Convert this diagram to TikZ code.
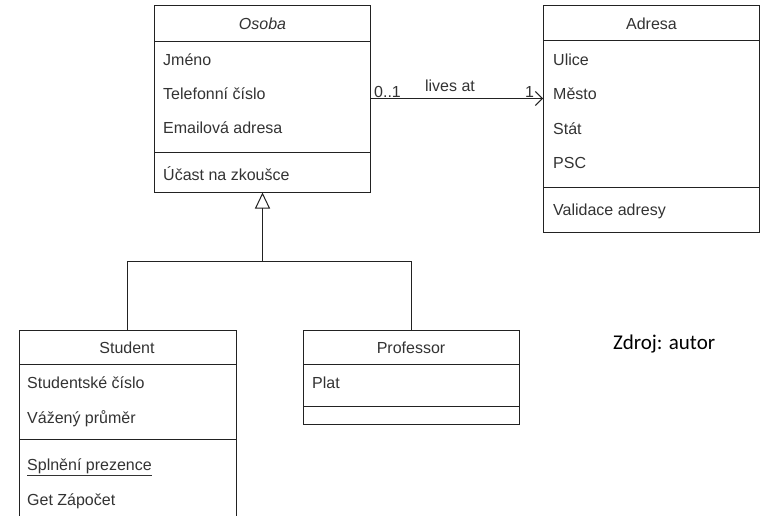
\documentclass[tikz,border=0pt]{standalone}
\usepackage{fontspec}
\setmainfont{Liberation Sans}
\newfontfamily\notefont{Carlito}
\usetikzlibrary{arrows.meta}
\definecolor{umlline}{HTML}{222222}
\definecolor{umltext}{HTML}{333333}
\tikzset{
  classbox/.style={draw=umlline, line width=1pt, rectangle, inner sep=0pt, minimum width=216pt},
  member/.style={anchor=base west, inner sep=0pt, text=umltext, font=\fontsize{16}{18}\selectfont},
  title/.style={anchor=base, inner sep=0pt, text=umltext, font=\fontsize{16}{18}\selectfont},
  conn/.style={draw=umlline, line width=1pt},
  inherit/.style={conn, -{Triangle[open, length=16pt, width=15pt, line width=1pt]}},
  assoc/.style={conn, -{Straight Barb[length=7pt, width=14pt, line width=1pt]}},
}
\begin{document}
\begin{tikzpicture}[x=1pt, y=-1pt]
\useasboundingbox[fill=white] (0,0) rectangle (760,515);

% class Osoba
\node[classbox, minimum height=187pt] (osoba) at (262.5,98.5) {};
\draw[conn] (155,41) -- (370,41);
\draw[conn] (155,152) -- (370,152);
\node[title, font=\fontsize{16}{18}\selectfont\itshape] (osobaT) at (262.5,29) {Osoba};
\node[member] (o1) at (163,65) {Jméno};
\node[member] (o2) at (163,99) {Telefonní číslo};
\node[member] (o3) at (163,133) {Emailová adresa};
\node[member] (o4) at (163,180) {Účast na zkoušce};

% class Adresa
\node[classbox, minimum height=227pt] (adresa) at (651.5,118.5) {};
\draw[conn] (543.5,40) -- (759.5,40);
\draw[conn] (543.5,187) -- (759.5,187);
\node[title] (adresaT) at (651.5,29) {Adresa};
\node[member] (a1) at (553,65) {Ulice};
\node[member] (a2) at (553,99) {Město};
\node[member] (a3) at (553,134) {Stát};
\node[member] (a4) at (553,168) {PSC};
\node[member] (a5) at (553,215) {Validace adresy};

% class Student (runs past the lower edge)
\coordinate (student) at (127,330);
\draw[conn] (19,520) -- (19,330) -- (236,330) -- (236,520);
\draw[conn] (19,364) -- (236,364);
\draw[conn] (19,439) -- (236,439);
\node[title] (studentT) at (127,353) {Student};
\node[member] (s1) at (27,388) {Studentské číslo};
\node[member] (s2) at (27,423) {Vážený průměr};
\node[member] (s3) at (27,470) {\underline{Splnění prezence}};
\node[member] (s4) at (27,505) {Get Zápočet};

% class Professor
\node[classbox, minimum height=94pt] (prof) at (411,377) {};
\draw[conn] (303,364) -- (519,364);
\draw[conn] (303,406) -- (519,406);
\node[title] (profT) at (411,353) {Professor};
\node[member] (p1) at (312,388) {Plat};

% association
\draw[assoc] (osoba.east) -- (adresa.west |- osoba.east);
\node[member] (m1) at (374,97) {0..1};
\node[title] (lbl) at (450,91) {lives at};
\node[member] (m2) at (525,97) {1};

% generalization
\coordinate (fork) at (262.5,261);
\draw[conn] (student) -- (student |- fork) -- (prof.north |- fork) -- (prof.north);
\draw[inherit] (fork) -- (osoba.south);

\node[anchor=base west, inner sep=0pt, font=\notefont\fontsize{21}{24}\selectfont] (src) at (613,349) {Zdroj: autor};
\end{tikzpicture}
\end{document}
